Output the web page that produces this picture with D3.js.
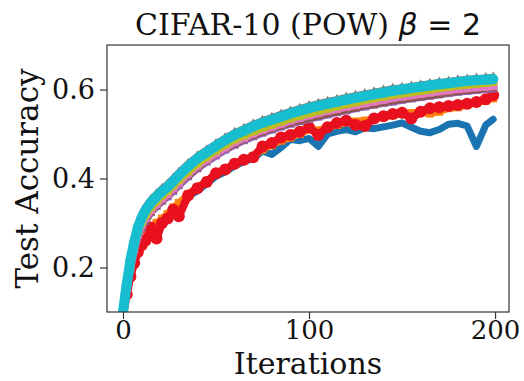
<!DOCTYPE html>
<html>
<head>
<meta charset="utf-8">
<script src="https://cdn.jsdelivr.net/npm/d3@7"></script>
<style>
  body { margin: 0; background: #fff; }
  svg { display: block; }
</style>
</head>
<body>
<div id="chart"></div>
<script>
// iterations
const iters = [0, 2, 4, 6, 8, 10, 12, 15, 18, 21, 24, 27, 30, 35, 40, 45, 50, 55, 60, 65, 70, 75, 80, 85, 90, 95,
  100, 105, 110, 115, 120, 125, 130, 135, 140, 145, 150, 155, 160, 165, 170, 175, 180, 185, 190, 195, 199];

const blueAcc = [0.09, 0.14, 0.18, 0.21, 0.235, 0.25, 0.26, 0.29, 0.27, 0.3, 0.31, 0.33, 0.318, 0.36, 0.372, 0.388, 0.405,
  0.415, 0.428, 0.438, 0.445, 0.462, 0.454, 0.47, 0.488, 0.485, 0.49, 0.472, 0.5, 0.506, 0.51, 0.505, 0.514, 0.512, 0.516, 0.52,
  0.525, 0.515, 0.506, 0.503, 0.51, 0.522, 0.524, 0.518, 0.472, 0.52, 0.533];
const orangeAcc = [0.09, 0.14, 0.18, 0.21, 0.235, 0.25, 0.265, 0.29, 0.3, 0.31, 0.32, 0.335, 0.345, 0.365, 0.38, 0.395, 0.41,
  0.42, 0.432, 0.442, 0.45, 0.465, 0.475, 0.485, 0.492, 0.5, 0.51, 0.508, 0.515, 0.52, 0.526, 0.528, 0.53, 0.535, 0.538, 0.542,
  0.545, 0.547, 0.549, 0.546, 0.55, 0.558, 0.56, 0.565, 0.57, 0.575, 0.58];
const redAcc = [0.09, 0.14, 0.18, 0.21, 0.235, 0.25, 0.26, 0.29, 0.265, 0.3, 0.31, 0.33, 0.315, 0.362, 0.378, 0.392, 0.412,
  0.42, 0.433, 0.442, 0.448, 0.472, 0.48, 0.492, 0.498, 0.505, 0.515, 0.498, 0.515, 0.525, 0.53, 0.52, 0.518, 0.535, 0.54, 0.545,
  0.548, 0.535, 0.55, 0.558, 0.56, 0.563, 0.565, 0.568, 0.572, 0.578, 0.587];
const purpleAcc = [0.1, 0.155, 0.2, 0.24, 0.27, 0.29, 0.305, 0.325, 0.338, 0.35, 0.36, 0.372, 0.385, 0.405, 0.423, 0.438, 0.452,
  0.465, 0.476, 0.486, 0.495, 0.503, 0.51, 0.517, 0.523, 0.529, 0.534, 0.539, 0.544, 0.549, 0.553, 0.558, 0.562, 0.566, 0.57, 0.573,
  0.577, 0.58, 0.583, 0.586, 0.589, 0.592, 0.595, 0.597, 0.599, 0.601, 0.603];
const brownAcc = [0.1, 0.155, 0.2, 0.24, 0.27, 0.29, 0.306, 0.326, 0.34, 0.352, 0.363, 0.376, 0.39, 0.408, 0.426, 0.442, 0.456,
  0.469, 0.479, 0.489, 0.498, 0.506, 0.513, 0.52, 0.526, 0.531, 0.537, 0.542, 0.547, 0.551, 0.556, 0.56, 0.565, 0.568, 0.572, 0.576,
  0.579, 0.582, 0.585, 0.588, 0.591, 0.594, 0.597, 0.599, 0.601, 0.604, 0.606];
const pinkAcc = [0.1, 0.152, 0.202, 0.242, 0.274, 0.295, 0.311, 0.329, 0.343, 0.355, 0.365, 0.378, 0.391, 0.411, 0.429, 0.443, 0.457,
  0.47, 0.482, 0.491, 0.501, 0.509, 0.516, 0.523, 0.53, 0.536, 0.542, 0.547, 0.552, 0.556, 0.561, 0.565, 0.569, 0.573, 0.577, 0.581,
  0.584, 0.587, 0.59, 0.593, 0.596, 0.598, 0.601, 0.603, 0.605, 0.606, 0.608];
const greyAcc = [0.1, 0.168, 0.222, 0.262, 0.297, 0.319, 0.335, 0.352, 0.365, 0.377, 0.387, 0.4, 0.413, 0.433, 0.45, 0.464, 0.478,
  0.491, 0.503, 0.512, 0.522, 0.53, 0.537, 0.544, 0.551, 0.557, 0.563, 0.568, 0.573, 0.577, 0.582, 0.586, 0.59, 0.594, 0.598, 0.602,
  0.604, 0.607, 0.61, 0.613, 0.616, 0.618, 0.621, 0.623, 0.625, 0.626, 0.627];
const oliveAcc = [0.1, 0.16, 0.21, 0.25, 0.282, 0.302, 0.318, 0.336, 0.35, 0.362, 0.372, 0.385, 0.397, 0.416, 0.434, 0.449, 0.463,
  0.476, 0.488, 0.497, 0.506, 0.514, 0.521, 0.528, 0.535, 0.541, 0.547, 0.552, 0.557, 0.562, 0.567, 0.571, 0.576, 0.58, 0.584, 0.588,
  0.591, 0.594, 0.597, 0.6, 0.603, 0.606, 0.609, 0.611, 0.613, 0.615, 0.617];
const cyanAcc = [0.1, 0.163, 0.217, 0.257, 0.29, 0.312, 0.328, 0.346, 0.359, 0.371, 0.381, 0.394, 0.407, 0.427, 0.445, 0.459, 0.473,
  0.486, 0.498, 0.507, 0.517, 0.525, 0.532, 0.539, 0.546, 0.552, 0.558, 0.563, 0.568, 0.572, 0.577, 0.581, 0.585, 0.589, 0.593, 0.597,
  0.6, 0.603, 0.606, 0.609, 0.612, 0.614, 0.617, 0.619, 0.621, 0.622, 0.623];

const series = [
  { name: 'blue', color: '#1a74b2', values: blueAcc, width: 7, marker: 'none' },
  { name: 'orange', color: '#ff7f0e', values: orangeAcc, width: 7, marker: 'square' },
  { name: 'red', color: '#e8101e', values: redAcc, width: 8, marker: 'circle' },
  { name: 'purple', color: '#9467bd', values: purpleAcc, width: 8, marker: 'square' },
  { name: 'brown', color: '#8c564b', values: brownAcc, width: 8, marker: 'square' },
  { name: 'pink', color: '#e377c2', values: pinkAcc, width: 8, marker: 'square' },
  { name: 'grey', color: '#7f7f7f', values: greyAcc, width: 7, marker: 'triangle' },
  { name: 'olive', color: '#bcbd22', values: oliveAcc, width: 8, marker: 'square' },
  { name: 'cyan', color: '#17becf', values: cyanAcc, width: 10, marker: 'circle-small' },
];

const yTicks = [0.2, 0.4, 0.6];
const xTicks = [0, 100, 200];

const WIDTH = 524, HEIGHT = 381;
const pLeft = 107, pRight = 509, pTop = 45, pBottom = 312;

const x = d3.scaleLinear().domain([-8.6, 207.5]).range([pLeft, pRight]);
const y = d3.scaleLinear().domain([0.1, 0.7]).range([pBottom, pTop]);

const svg = d3.select('#chart').append('svg')
  .attr('width', WIDTH).attr('height', HEIGHT);

svg.append('clipPath').attr('id', 'plot-clip')
  .append('rect')
  .attr('x', pLeft).attr('y', pTop)
  .attr('width', pRight - pLeft).attr('height', pBottom - pTop);

const plot = svg.append('g').attr('clip-path', 'url(#plot-clip)');

const line = d3.line()
  .x((d) => x(d[0]))
  .y((d) => y(d[1]));

series.forEach((s) => {
  const pts = iters.map((it, i) => [it, s.values[i]]);
  const g = plot.append('g');
  g.append('path')
    .datum(pts)
    .attr('fill', 'none')
    .attr('stroke', s.color)
    .attr('stroke-width', s.width)
    .attr('stroke-linejoin', 'round')
    .attr('stroke-linecap', 'round')
    .attr('d', line);

  if (s.marker === 'circle') {
    g.selectAll('circle').data(pts).join('circle')
      .attr('cx', (d) => x(d[0])).attr('cy', (d) => y(d[1]))
      .attr('r', 6).attr('fill', s.color);
  } else if (s.marker === 'circle-small') {
    g.selectAll('circle').data(pts).join('circle')
      .attr('cx', (d) => x(d[0])).attr('cy', (d) => y(d[1]))
      .attr('r', 5).attr('fill', s.color);
  } else if (s.marker === 'square') {
    g.selectAll('rect').data(pts).join('rect')
      .attr('x', (d) => x(d[0]) - 4).attr('y', (d) => y(d[1]) - 4)
      .attr('width', 8).attr('height', 8).attr('fill', s.color);
  } else if (s.marker === 'triangle') {
    const tri = d3.symbol().type(d3.symbolTriangle).size(45);
    g.selectAll('path.m').data(pts).join('path')
      .attr('class', 'm')
      .attr('transform', (d) => `translate(${x(d[0])},${y(d[1])})`)
      .attr('d', tri).attr('fill', s.color);
  }
});

// axes
const serif = 'DejaVu Serif, serif';

const axisB = svg.append('g')
  .attr('transform', `translate(0,${pBottom})`)
  .call(d3.axisBottom(x).tickValues(xTicks).tickSize(7).tickPadding(2));
const axisL = svg.append('g')
  .attr('transform', `translate(${pLeft},0)`)
  .call(d3.axisLeft(y).tickValues(yTicks).tickFormat(d3.format('.1f')).tickSize(7).tickPadding(5));

[axisB, axisL].forEach((a) => {
  a.select('.domain').remove();
  a.selectAll('.tick line').attr('stroke', '#333').attr('stroke-width', 1.2);
  a.selectAll('.tick text').attr('font-family', serif).attr('font-size', 26).attr('fill', '#111');
});
axisL.selectAll('.tick text').attr('font-size', 27);

svg.append('rect')
  .attr('x', pLeft).attr('y', pTop)
  .attr('width', pRight - pLeft).attr('height', pBottom - pTop)
  .attr('fill', 'none').attr('stroke', '#333').attr('stroke-width', 1.2);

// labels
svg.append('text')
  .attr('x', (pLeft + pRight) / 2).attr('y', 374)
  .attr('text-anchor', 'middle')
  .attr('font-family', serif).attr('font-size', 30).attr('fill', '#111')
  .text('Iterations');

svg.append('text')
  .attr('transform', `translate(38,${(pTop + pBottom) / 2}) rotate(-90)`)
  .attr('text-anchor', 'middle')
  .attr('font-family', serif).attr('font-size', 31).attr('fill', '#111')
  .text('Test Accuracy');

const title = svg.append('text')
  .attr('x', (pLeft + pRight) / 2).attr('y', 35)
  .attr('text-anchor', 'middle')
  .attr('font-family', serif).attr('font-size', 30).attr('fill', '#111');
title.append('tspan').text('CIFAR-10 (POW) ');
title.append('tspan').attr('font-family', 'DejaVu Sans').attr('font-style', 'italic').text('β');
title.append('tspan').attr('font-family', 'DejaVu Sans').text(' = 2');
</script>
</body>
</html>
